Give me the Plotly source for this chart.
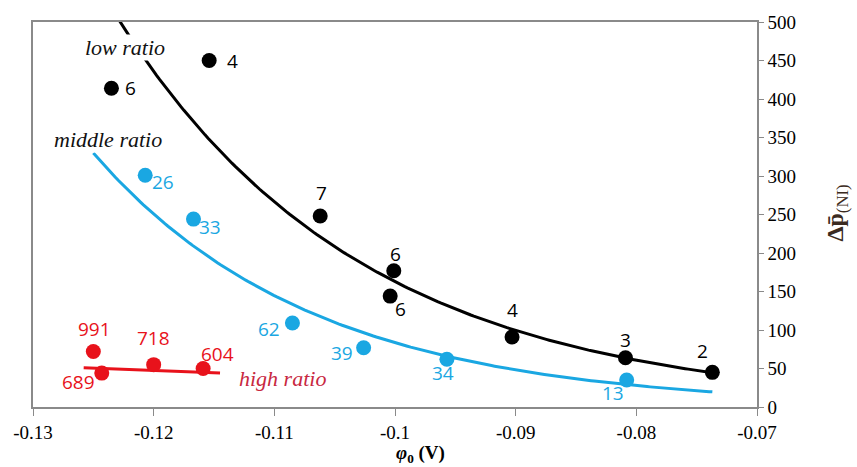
import numpy as np
import plotly.graph_objects as go

# ---- data ----
low_x = [-0.1235, -0.1154, -0.1062, -0.1001, -0.1004, -0.0903, -0.0809, -0.0737]
low_y = [414, 450, 248, 177, 144, 91, 64, 45]
low_lbl = ["6", "4", "7", "6", "6", "4", "3", "2"]

mid_x = [-0.1207, -0.1167, -0.1085, -0.1026, -0.0957, -0.0808]
mid_y = [301, 244, 109, 77, 62, 35]
mid_lbl = ["26", "33", "62", "39", "34", "13"]

high_x = [-0.1250, -0.1243, -0.1200, -0.1159]
high_y = [72, 44, 55, 50]
high_lbl = ["991", "689", "718", "604"]

# red trend line end points
high_trend_x = [-0.1258, -0.1145]
high_trend_y = [51, 44]

x_ticks = [-0.13, -0.12, -0.11, -0.10, -0.09, -0.08, -0.07]
x_ticklabels = ["-0.13", "-0.12", "-0.11", "-0.1", "-0.09", "-0.08", "-0.07"]
y_ticks = list(range(0, 501, 50))

BLACK = "#000000"
CYAN = "#1aa7e2"
RED = "#e8121b"
LBL_FONT = "Open Sans"
SERIF = "Liberation Serif"

# label pixel offsets (style)
low_off = [(19, 0), (23, 0), (1, -23), (2, -17), (10, 13), (0, -27), (0, -18), (-10, -21)]
mid_off = [(18, 7), (17, 8), (-23, 6), (-22, 5), (-4, 14), (-14, 13)]
high_off = [(1, -23), (-23, 9), (0, -27), (14, -15)]

# exponential trend lines (least squares on log, like a spreadsheet trendline)
def exp_fit(xs, ys, x0, x1):
    b, a = np.polyfit(np.array(xs), np.log(np.array(ys)), 1)
    xx = np.linspace(x0, x1, 200)
    return xx, np.exp(a + b * xx)

lx, ly = exp_fit(low_x, low_y, min(low_x), max(low_x))
mx, my = exp_fit(mid_x, mid_y, -0.1250, max(mid_x) + 0.0071)

fig = go.Figure()
fig.add_trace(go.Scatter(x=lx, y=ly, mode="lines", line=dict(color=BLACK, width=3),
                         hoverinfo="skip"))
fig.add_trace(go.Scatter(x=mx, y=my, mode="lines", line=dict(color=CYAN, width=3),
                         hoverinfo="skip"))
fig.add_trace(go.Scatter(x=high_trend_x, y=high_trend_y, mode="lines",
                         line=dict(color=RED, width=3), hoverinfo="skip"))

for xs, ys, lbl, off, col in [(low_x, low_y, low_lbl, low_off, BLACK),
                              (mid_x, mid_y, mid_lbl, mid_off, CYAN),
                              (high_x, high_y, high_lbl, high_off, RED)]:
    fig.add_trace(go.Scatter(x=xs, y=ys, mode="markers",
                             marker=dict(color=col, size=15)))
    for xv, yv, t, (dx, dy) in zip(xs, ys, lbl, off):
        fig.add_annotation(x=xv, y=yv, text=t, showarrow=False,
                           xshift=dx, yshift=-dy,
                           font=dict(family=LBL_FONT, size=19, color=col),
                           xanchor="center", yanchor="middle")

# series names
fig.add_annotation(x=-0.1224, y=467, text="<i>low ratio</i>", showarrow=False,
                   font=dict(family=SERIF, size=22, color="#111111"),
                   bgcolor="white", xanchor="center", yanchor="middle", borderpad=0)
fig.add_annotation(x=-0.1238, y=347, text="<i>middle ratio</i>", showarrow=False,
                   font=dict(family=SERIF, size=22, color="#111111"),
                   bgcolor="white", xanchor="center", yanchor="middle", borderpad=0)
fig.add_annotation(x=-0.1093, y=37, text="<i>high ratio</i>", showarrow=False,
                   font=dict(family=SERIF, size=22, color="#c8283f"),
                   xanchor="center", yanchor="middle")

# axis titles
fig.add_annotation(xref="paper", yref="paper", x=1.11, y=0.504,
                   text="<b>Δp̄</b><sub>(NI)</sub>", showarrow=False, textangle=-90,
                   font=dict(family=SERIF, size=24, color="#3a2a20"),
                   xanchor="center", yanchor="middle")
fig.add_annotation(x=-0.0979, xref="x", yref="paper", y=-0.123,
                   text="<b><i>φ</i><sub>0</sub> (V)</b>", showarrow=False,
                   font=dict(family=SERIF, size=19, color="black"),
                   xanchor="center", yanchor="middle")

fig.update_layout(
    width=857, height=467,
    margin=dict(l=33, r=100, t=18, b=60),
    paper_bgcolor="white", plot_bgcolor="white",
    showlegend=False,
    xaxis=dict(range=[-0.13, -0.07], tickvals=x_ticks, ticktext=x_ticklabels,
               showgrid=False, zeroline=False, showline=True, linecolor="#8a8a8a",
               linewidth=1.5, mirror=True, ticks="outside", ticklen=7,
               tickcolor="#8a8a8a",
               tickfont=dict(family=SERIF, size=19, color="black")),
    yaxis=dict(range=[0, 500], tickvals=y_ticks, side="right",
               showgrid=False, zeroline=False, showline=True, linecolor="#8a8a8a",
               linewidth=1.5, mirror=True, ticks="outside", ticklen=5,
               tickcolor="#8a8a8a",
               tickfont=dict(family=SERIF, size=19, color="black")),
)

fig.write_html("out.html")
